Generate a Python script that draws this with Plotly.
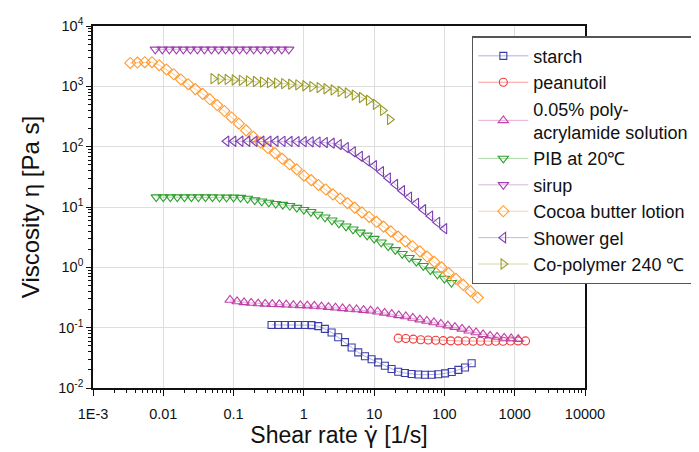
import plotly.graph_objects as go

# ---------------- data ----------------
starch_x = [0.347, 0.431, 0.537, 0.668, 0.832, 1.033, 1.285, 1.60, 1.99, 2.48, 3.08, 3.84, 4.78, 5.94,
            7.40, 9.20, 11.4, 14.2, 17.7, 22.0, 27.4, 34.1, 42.5, 52.8, 65.8, 81.8, 102, 127, 158, 196, 244]
starch_y = [0.111, 0.111, 0.111, 0.111, 0.111, 0.111, 0.110, 0.106, 0.0955, 0.0832, 0.0692, 0.0575, 0.0468,
            0.0389, 0.0335, 0.0299, 0.0266, 0.0234, 0.0207, 0.0186, 0.0177, 0.0171, 0.0167, 0.0166, 0.0166,
            0.0169, 0.0175, 0.0184, 0.0200, 0.0219, 0.0257]

peanut_x = [22.0, 28.2, 36.0, 46.0, 58.7, 75.2, 95.9, 123, 157, 200, 256, 327, 418, 535, 682, 873, 1114, 1426]
peanut_y = [0.0670, 0.0661, 0.0646, 0.0631, 0.0624, 0.0617, 0.0610, 0.0605, 0.0603, 0.0600, 0.0597,
            0.0596, 0.0596, 0.0596, 0.0596, 0.0600, 0.0603, 0.0603]

paa_x = [0.0891, 0.112, 0.141, 0.178, 0.224, 0.282, 0.355, 0.447, 0.562, 0.708, 0.891, 1.12, 1.41, 1.78,
         2.24, 2.82, 3.55, 4.47, 5.62, 7.08, 8.91, 11.2, 14.1, 17.8, 22.4, 28.2, 35.5, 44.7, 56.2, 70.8,
         89.1, 112, 141, 178, 224, 282, 355, 447, 562, 708, 891, 1122]
paa_y = [0.288, 0.272, 0.263, 0.257, 0.251, 0.248, 0.245, 0.243, 0.240, 0.237, 0.234, 0.232, 0.229, 0.224,
         0.219, 0.214, 0.209, 0.204, 0.200, 0.195, 0.191, 0.184, 0.176, 0.168, 0.160, 0.153, 0.145, 0.136,
         0.129, 0.122, 0.115, 0.108, 0.102, 0.0955, 0.0891, 0.0832, 0.0776, 0.0733, 0.070, 0.0676, 0.0661,
         0.0646]

pib_x = [0.00794, 0.01, 0.0126, 0.0158, 0.02, 0.0251, 0.0316, 0.0398, 0.0501, 0.0631, 0.0794, 0.1, 0.126,
         0.158, 0.2, 0.251, 0.316, 0.398, 0.501, 0.631, 0.794, 1.0, 1.26, 1.58, 2.0, 2.51, 3.16, 3.98, 5.01,
         6.31, 7.94, 10, 12.6, 15.8, 20, 25.1, 31.6, 39.8, 50.1, 63.1, 79.4, 100, 126]
pib_y = [14.6, 14.6, 14.6, 14.6, 14.6, 14.6, 14.6, 14.6, 14.55, 14.5, 14.45, 14.45, 14.3, 13.8, 13.0, 12.45,
         11.9, 11.35, 10.96, 10.5, 9.77, 9.02, 8.32, 7.5, 6.76, 6.03, 5.37, 4.79, 4.27, 3.80, 3.39, 2.99,
         2.60, 2.24, 1.95, 1.68, 1.445, 1.245, 1.06, 0.90, 0.767, 0.653, 0.556]

sirup_x = [0.00769, 0.00968, 0.0122, 0.01535, 0.0193, 0.0243, 0.0306, 0.0385, 0.0485, 0.0611, 0.0769,
           0.0968, 0.122, 0.1535, 0.193, 0.243, 0.306, 0.385, 0.485, 0.611]
sirup_y = [4100, 4100, 4100, 4100, 4100, 4100, 4100, 4100, 4100, 4100, 4100, 4100, 4100, 4100, 4100,
           4100, 4100, 4100, 4100, 4100]

cocoa_x = [0.00339, 0.00430, 0.00545, 0.00690, 0.00875, 0.0111, 0.01406, 0.0178, 0.0226, 0.0286, 0.0363,
           0.046, 0.0583, 0.0740, 0.0938, 0.119, 0.151, 0.191, 0.242, 0.307, 0.389, 0.493, 0.625, 0.792,
           1.005, 1.27, 1.61, 2.05, 2.59, 3.29, 4.17, 5.28, 6.70, 8.49, 10.8, 13.6, 17.3, 21.9, 27.8, 35.2,
           44.7, 56.6, 71.8, 91.0, 115, 146, 185, 235, 298]
cocoa_y = [2440, 2480, 2510, 2510, 2240, 1905, 1585, 1300, 1085, 900, 750, 610, 490, 390, 305, 240, 186,
           146, 117, 95, 78, 63, 51, 42, 33, 27.9, 23.2, 19.5, 16.2, 13.8, 11.6, 9.77, 8.13, 6.84, 5.69,
           4.73, 3.94, 3.24, 2.69, 2.24, 1.84, 1.51, 1.23, 1.0, 0.80, 0.645, 0.513, 0.403, 0.316]

shower_x = [0.0794, 0.1, 0.126, 0.158, 0.2, 0.251, 0.316, 0.398, 0.501, 0.631, 0.794, 1.0, 1.26, 1.58, 2.0,
            2.51, 3.16, 3.98, 5.01, 6.31, 7.94, 10, 12.6, 15.8, 20, 25.1, 31.6, 39.8, 50.1, 63.1, 79.4, 100]
shower_y = [123, 123, 123, 123, 123, 123, 123, 123, 122.5, 121.9, 121.3, 120.8, 120.2, 118.9, 117, 114.3,
            108.4, 96.6, 82.2, 69.2, 58.2, 48.4, 38.5, 30.2, 23.7, 18.6, 14.6, 11.5, 9.02, 7.08, 5.56, 4.37]

copoly_x = [0.0514, 0.0649, 0.0817, 0.103, 0.130, 0.164, 0.206, 0.260, 0.327, 0.413, 0.520, 0.656, 0.826,
            1.04, 1.31, 1.66, 2.08, 2.63, 3.31, 4.18, 5.26, 6.64, 8.36, 10.5, 13.3, 16.7]
copoly_y = [1340, 1318, 1303, 1274, 1259, 1230, 1202, 1175, 1148, 1135, 1109, 1084, 1059, 1023, 989, 955,
            912, 871, 822, 776, 716, 653, 589, 501, 398, 282]

x_tickvals = [0.001, 0.01, 0.1, 1, 10, 100, 1000, 10000]
x_ticktext = ["1E-3", "0.01", "0.1", "1", "10", "100", "1000", "10000"]
y_tickvals = [0.01, 0.1, 1, 10, 100, 1000, 10000]
y_ticktext = ["10<sup>-2</sup>", "10<sup>-1</sup>", "10<sup>0</sup>", "10<sup>1</sup>",
              "10<sup>2</sup>", "10<sup>3</sup>", "10<sup>4</sup>"]

series = [
    ("starch", starch_x, starch_y, "square-open", "#3c3ca8", "rgba(120,120,215,0.6)", 7),
    ("peanutoil", peanut_x, peanut_y, "circle-open", "#f03a3a", "rgba(240,90,90,0.6)", 8),
    ("0.05% poly-<br>acrylamide solution", paa_x, paa_y, "triangle-up-open", "#c040a8", "rgba(205,100,185,0.55)", 9),
    ("PIB at 20\u2103", pib_x, pib_y, "triangle-down-open", "#30a030", "rgba(100,185,100,0.55)", 9),
    ("sirup", sirup_x, sirup_y, "triangle-down-open", "#a040b0", "rgba(185,120,195,0.55)", 9),
    ("Cocoa butter lotion", cocoa_x, cocoa_y, "diamond-open", "#ff9a30", "rgba(255,175,100,0.6)", 8.5),
    ("Shower gel", shower_x, shower_y, "triangle-left-open", "#7a3cb0", "rgba(155,120,205,0.55)", 9),
    ("Co-polymer 240 \u2103", copoly_x, copoly_y, "triangle-right-open", "#9a9a2a", "rgba(185,185,110,0.6)", 9),
]

fig = go.Figure()
for name, xs, ys, sym, mcol, lcol, size in series:
    fig.add_trace(go.Scatter(
        x=xs, y=ys, name=name, mode="lines+markers",
        line=dict(color=lcol, width=1),
        marker=dict(symbol=sym, size=size, color=mcol, line=dict(width=1.1, color=mcol)),
    ))

font_family = "Liberation Sans, Arial, Helvetica, sans-serif"

fig.update_layout(
    width=699, height=452,
    margin=dict(l=85, r=122, t=18, b=72),
    paper_bgcolor="white", plot_bgcolor="white",
    font=dict(family=font_family, color="#111111"),
    showlegend=True,
    legend=dict(
        x=0.77, y=0.972, xanchor="left", yanchor="top",
        bgcolor="white", bordercolor="#555555", borderwidth=1.5,
        font=dict(size=18, family=font_family, color="#111111"),
        itemwidth=50, tracegroupgap=0,
    ),
    xaxis=dict(
        type="log", range=[-3, 4], automargin=False,
        tickvals=x_tickvals, ticktext=x_ticktext,
        tickfont=dict(size=14.5, color="#111111"),
        ticks="outside", ticklen=6, tickwidth=1, tickcolor="#111111",
        ticklabelstandoff=6,
        minor=dict(ticks="outside", ticklen=3, tickwidth=1, tickcolor="#111111", dtick="D1", showgrid=False),
        showgrid=True, gridcolor="#dedede", gridwidth=1,
        showline=True, linecolor="#111111", linewidth=1.6, mirror=True,
        zeroline=False,
        title=dict(text="Shear rate <span style='font-family:DejaVu Sans'>\u03b3\u0307</span> [1/s]",
                   font=dict(size=23, color="#111111"), standoff=5),
    ),
    yaxis=dict(
        type="log", range=[-2, 4], automargin=False,
        tickvals=y_tickvals, ticktext=y_ticktext,
        tickfont=dict(size=14.5, color="#111111"),
        ticks="outside", ticklen=5, tickwidth=1, tickcolor="#111111",
        minor=dict(ticks="outside", ticklen=3, tickwidth=1, tickcolor="#111111", dtick="D1", showgrid=False),
        showgrid=True, gridcolor="#dedede", gridwidth=1,
        showline=True, linecolor="#111111", linewidth=1.6, mirror=True,
        zeroline=False,
        title=dict(text="Viscosity \u03b7 [Pa s]", font=dict(size=24, color="#111111"), standoff=12),
    ),
)

fig.write_html("out.html")
